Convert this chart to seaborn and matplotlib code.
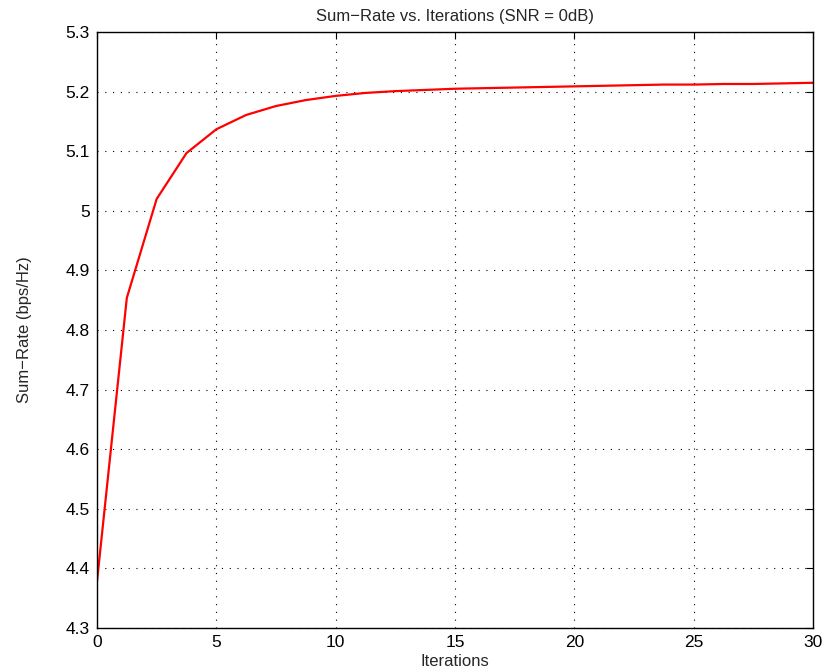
import matplotlib
matplotlib.use("Agg")
import matplotlib.pyplot as plt
import pandas as pd
import seaborn as sns

# iterations (x) and sum-rate values (y)
iterations = [0, 1.25, 2.5, 3.75, 5, 6.25, 7.5, 8.75, 10, 11.25, 12.5, 13.75, 15,
              16.25, 17.5, 18.75, 20, 21.25, 22.5, 23.75, 25, 26.25, 27.5, 28.75, 30]
sum_rate = [4.378, 4.854, 5.020, 5.097, 5.137, 5.161, 5.176, 5.186, 5.193, 5.198,
            5.201, 5.203, 5.205, 5.206, 5.207, 5.208, 5.209, 5.210, 5.211, 5.212,
            5.212, 5.213, 5.213, 5.214, 5.215]
x_ticks = [0, 5, 10, 15, 20, 25, 30]
y_ticks = [4.3, 4.4, 4.5, 4.6, 4.7, 4.8, 4.9, 5, 5.1, 5.2, 5.3]
y_labels = ["4.3", "4.4", "4.5", "4.6", "4.7", "4.8", "4.9", "5", "5.1", "5.2", "5.3"]

sns.set_style("white")
plt.rcParams['font.family'] = ['Liberation Sans', 'DejaVu Sans']

df = pd.DataFrame({"Iterations": iterations, "SumRate": sum_rate})

fig = plt.figure(figsize=(8.24, 6.71), dpi=100)
ax = fig.add_axes([0.1177, 0.0641, 0.869, 0.888])
sns.lineplot(data=df, x="Iterations", y="SumRate", color="red", linewidth=1.6, ax=ax)

ax.set_xlim(0, 30)
ax.set_ylim(4.3, 5.3)
ax.set_xticks(x_ticks)
ax.set_xticklabels([str(t) for t in x_ticks])
ax.set_yticks(y_ticks)
ax.set_yticklabels(y_labels)
ax.grid(True, linestyle=(0, (1, 6)), color="black", linewidth=0.8)
ax.tick_params(direction="in", length=5, width=0.8, top=True, right=True,
               labelsize=12.5, colors="black", pad=5)
for s in ax.spines.values():
    s.set_color("black")
    s.set_linewidth(1.0)

ax.set_title("Sum\u2212Rate vs. Iterations (SNR = 0dB)", fontsize=12, pad=8)
ax.set_xlabel("Iterations", fontsize=12, labelpad=3)
ax.set_ylabel("Sum\u2212Rate (bps/Hz)", fontsize=12, labelpad=24)

fig.savefig("out.png", dpi=100)
